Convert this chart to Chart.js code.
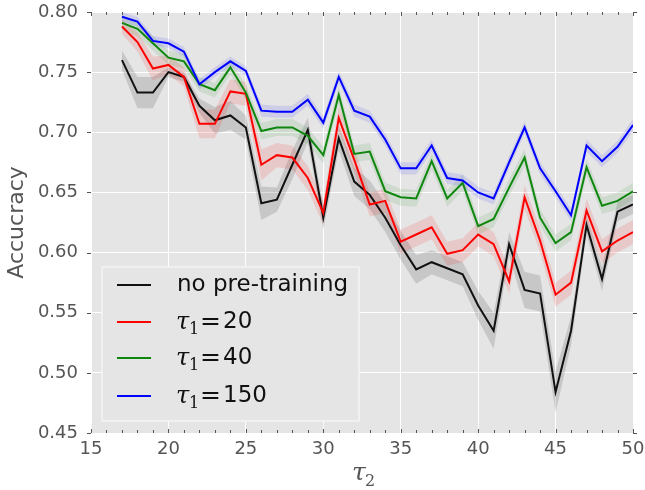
<!DOCTYPE html>
<html>
<head>
<meta charset="utf-8">
<script src="https://cdn.jsdelivr.net/npm/chart.js@4"></script>
<style>
  body { margin: 0; background: #fff; }
  #wrap { width: 645px; height: 490px; }
</style>
</head>
<body>
<div id="wrap"><canvas id="myChart" width="645" height="490"></canvas></div>
<script>
// tau_2 values
var tau2 = [17,18,19,20,21,22,23,24,25,26,27,28,29,30,31,32,33,34,35,36,37,38,39,40,41,42,43,44,45,46,47,48,49,50];

// accuracy per setting
var noPre = [0.760,0.733,0.733,0.750,0.746,0.722,0.710,0.714,0.704,0.641,0.644,0.673,0.702,0.629,0.695,0.659,0.648,0.629,0.606,0.586,0.592,0.587,0.582,0.556,0.535,0.607,0.569,0.566,0.484,0.535,0.623,0.578,0.634,0.640];
var tau20 = [0.788,0.775,0.753,0.756,0.746,0.707,0.707,0.734,0.732,0.673,0.681,0.679,0.662,0.633,0.712,0.677,0.640,0.643,0.609,0.615,0.621,0.599,0.602,0.615,0.607,0.576,0.646,0.610,0.565,0.575,0.635,0.601,0.610,0.617];
var tau40 = [0.791,0.786,0.774,0.762,0.759,0.740,0.735,0.754,0.733,0.701,0.704,0.704,0.697,0.681,0.731,0.682,0.684,0.651,0.646,0.645,0.676,0.645,0.658,0.622,0.628,0.654,0.679,0.629,0.608,0.617,0.671,0.639,0.643,0.651];
var tau150 = [0.796,0.792,0.776,0.774,0.767,0.740,0.750,0.759,0.751,0.718,0.717,0.717,0.727,0.708,0.746,0.718,0.713,0.694,0.670,0.670,0.689,0.662,0.660,0.650,0.645,0.675,0.704,0.670,0.651,0.631,0.689,0.676,0.688,0.706];

// half width of the shaded bands
var noPreErr = [0.008,0.013,0.013,0.004,0.004,0.006,0.011,0.012,0.010,0.014,0.010,0.012,0.010,0.010,0.010,0.012,0.012,0.012,0.012,0.012,0.010,0.010,0.010,0.012,0.015,0.010,0.015,0.015,0.017,0.012,0.008,0.010,0.008,0.008];
var tau20Err = [0.006,0.008,0.010,0.008,0.008,0.012,0.012,0.010,0.010,0.013,0.010,0.010,0.010,0.010,0.010,0.010,0.010,0.010,0.010,0.010,0.010,0.010,0.010,0.010,0.010,0.010,0.010,0.010,0.010,0.010,0.010,0.010,0.010,0.010];
var tau40Err = [0.006,0.006,0.006,0.006,0.006,0.006,0.006,0.006,0.006,0.007,0.007,0.007,0.007,0.007,0.007,0.007,0.007,0.007,0.007,0.007,0.007,0.007,0.007,0.007,0.007,0.007,0.007,0.007,0.007,0.007,0.007,0.007,0.007,0.007];
var tau150Err = [0.004,0.004,0.004,0.004,0.004,0.004,0.004,0.004,0.004,0.005,0.005,0.005,0.005,0.005,0.005,0.005,0.005,0.005,0.005,0.005,0.005,0.005,0.005,0.005,0.005,0.005,0.005,0.005,0.005,0.005,0.005,0.005,0.005,0.005];

var xTicks = [15,20,25,30,35,40,45,50];
var yTicks = [0.45,0.50,0.55,0.60,0.65,0.70,0.75,0.80];

var series = [
  { name: "no pre-training", tau: null, vals: noPre, err: noPreErr, line: "#111111", band: "rgba(0,0,0,0.13)", z: 4 },
  { name: "20", tau: "1", vals: tau20, err: tau20Err, line: "#ff0000", band: "rgba(255,0,0,0.12)", z: 3 },
  { name: "40", tau: "1", vals: tau40, err: tau40Err, line: "#0f870f", band: "rgba(0,128,0,0.10)", z: 2 },
  { name: "150", tau: "1", vals: tau150, err: tau150Err, line: "#0000ff", band: "rgba(0,0,255,0.10)", z: 1 }
];

function pts(vals, off, sign) {
  return tau2.map(function (x, i) {
    return { x: x, y: vals[i] + (off ? sign * off[i] : 0) };
  });
}

var datasets = [];
series.forEach(function (s) {
  datasets.push({ data: pts(s.vals, s.err, 1), borderWidth: 0, pointRadius: 0, fill: false, order: 10 + s.z, tension: 0 });
  datasets.push({ data: pts(s.vals, s.err, -1), borderWidth: 0, pointRadius: 0, fill: "-1", backgroundColor: s.band, order: 10 + s.z, tension: 0 });
  datasets.push({ data: pts(s.vals), borderColor: s.line, borderWidth: 2, pointRadius: 0, fill: false, order: s.z, tension: 0 });
});

var tickCol = "#555555";

// grey panel, ticks, titles and legend, ggplot-ish
var decor = {
  id: "decor",
  beforeDraw: function (chart) {
    var a = chart.chartArea, c = chart.ctx;
    c.save();
    c.fillStyle = "#e5e5e5";
    c.fillRect(a.left, a.top, a.right - a.left, a.bottom - a.top);
    c.restore();
  },
  afterDraw: function (chart) {
    var a = chart.chartArea, c = chart.ctx;
    var xs = chart.scales.x, ys = chart.scales.y;
    c.save();
    c.strokeStyle = tickCol;
    c.lineWidth = 1;
    c.beginPath();
    for (var i = 15; i <= 50; i++) {
      var px = Math.round(xs.getPixelForValue(i)) + 0.5;
      var len = (i % 5 === 0) ? 4 : 3;
      c.moveTo(px, a.bottom); c.lineTo(px, a.bottom - len);
      c.moveTo(px, a.top); c.lineTo(px, a.top + len);
    }
    yTicks.forEach(function (v) {
      var py = Math.round(ys.getPixelForValue(v)) + 0.5;
      c.moveTo(a.left - 4, py); c.lineTo(a.left, py);
      c.moveTo(a.right, py); c.lineTo(a.right + 4, py);
    });
    c.stroke();

    // axis titles
    c.fillStyle = tickCol;
    c.font = "22px 'DejaVu Sans'";
    c.textAlign = "center";
    c.textBaseline = "middle";
    c.translate(17, (a.top + a.bottom) / 2);
    c.rotate(-Math.PI / 2);
    c.fillText("Accucracy", 0, 0);
    c.setTransform(1, 0, 0, 1, 0, 0);
    c.scale(chart.currentDevicePixelRatio, chart.currentDevicePixelRatio);
    c.textBaseline = "alphabetic";
    c.textAlign = "left";
    c.font = "italic 25px 'DejaVu Serif'";
    var cx = (a.left + a.right) / 2;
    c.fillText("\u03c4", cx - 10, 480);
    c.font = "16px 'DejaVu Serif'";
    c.fillText("2", cx + 3, 486);

    // legend box
    c.fillStyle = "#e5e5e5";
    c.strokeStyle = "#f4f4f4";
    c.lineWidth = 1.5;
    c.fillRect(102, 267, 257, 154);
    c.strokeRect(102, 267, 257, 154);
    var rows = [285, 322, 358, 396];
    series.forEach(function (s, k) {
      var y = rows[k];
      c.strokeStyle = s.line;
      c.lineWidth = 2;
      c.beginPath();
      c.moveTo(117, y); c.lineTo(151, y);
      c.stroke();
      c.fillStyle = "#111";
      c.textBaseline = "middle";
      if (s.tau === null) {
        c.font = "23px 'DejaVu Sans'";
        c.fillText(s.name, 177, y);
      } else {
        c.font = "italic 24px 'DejaVu Serif'";
        c.fillText("\u03c4", 176, y + 1);
        c.font = "16px 'DejaVu Serif'";
        c.fillText(s.tau, 189, y + 8);
        c.font = "25px 'DejaVu Serif'";
        c.fillText("=", 200, y);
        c.font = "23px 'DejaVu Sans'";
        c.fillText(s.name, 223, y);
      }
    });
    c.restore();
  }
};

new Chart(document.getElementById("myChart"), {
  type: "line",
  data: { datasets: datasets },
  plugins: [decor],
  options: {
    responsive: false,
    animation: false,
    layout: { padding: { top: 12, right: 12, left: 0, bottom: 0 } },
    plugins: { legend: { display: false }, tooltip: { enabled: false } },
    scales: {
      x: {
        type: "linear", min: 15, max: 50,
        afterBuildTicks: function (s) { s.ticks = xTicks.map(function (v) { return { value: v }; }); },
        afterFit: function (s) { s.height = 57; s.paddingLeft = 0; s.paddingRight = 0; },
        grid: { color: "#ffffff", lineWidth: 1, drawTicks: false },
        border: { display: false },
        ticks: { color: tickCol, padding: 6, font: { family: "'DejaVu Sans'", size: 18 }, maxRotation: 0 }
      },
      y: {
        min: 0.45, max: 0.80,
        afterBuildTicks: function (s) { s.ticks = yTicks.map(function (v) { return { value: v }; }); },
        afterFit: function (s) { s.width = 91; s.paddingTop = 0; s.paddingBottom = 0; },
        grid: { color: "#ffffff", lineWidth: 1, drawTicks: false },
        border: { display: false },
        ticks: { color: tickCol, padding: 13, font: { family: "'DejaVu Sans'", size: 18 },
          callback: function (v) { return v.toFixed(2); } }
      }
    }
  }
});
</script>
</body>
</html>
